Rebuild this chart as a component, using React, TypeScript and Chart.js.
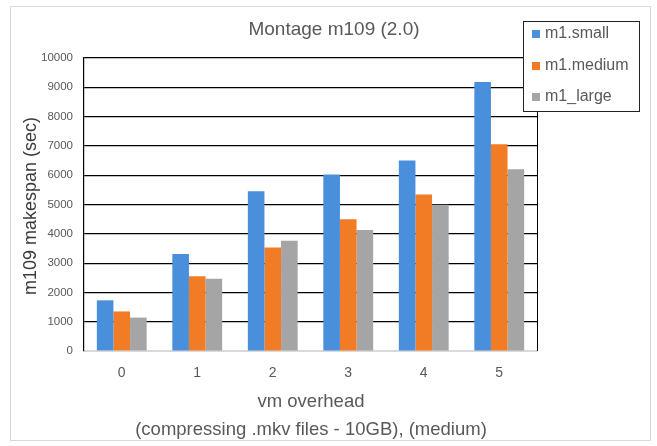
import React, { useEffect, useRef } from "react";
import { Chart, registerables } from "chart.js";

Chart.register(...registerables);

const categories = ["0", "1", "2", "3", "4", "5"];
const smallValues = [1730, 3310, 5450, 6020, 6500, 9180];
const mediumValues = [1350, 2550, 3530, 4500, 5340, 7060];
const largeValues = [1140, 2470, 3760, 4130, 4990, 6200];
const seriesNames = ["m1.small", "m1.medium", "m1_large"];
const seriesColors = ["#4A8FDB", "#F27B26", "#A5A5A5"];
const chartTitle = "Montage m109 (2.0)";
const yTitle = "m109 makespan (sec)";
const xTitleLines = ["vm overhead", "(compressing .mkv files - 10GB), (medium)"];

const FONT = "'Liberation Sans', Arial, sans-serif";
const TEXT = "#595959";

const decorPlugin = {
  id: "decor",
  afterDraw(chart: any) {
    const { ctx, chartArea } = chart;
    ctx.save();
    // outer border
    ctx.strokeStyle = "#d9d9d9";
    ctx.lineWidth = 1;
    ctx.strokeRect(10.5, 6.5, 640, 434);
    // right plot border
    ctx.strokeStyle = "#000";
    ctx.beginPath();
    ctx.moveTo(Math.round(chartArea.right) + 0.5, chartArea.top);
    ctx.lineTo(Math.round(chartArea.right) + 0.5, chartArea.bottom);
    ctx.stroke();
    // title
    ctx.fillStyle = TEXT;
    ctx.textAlign = "center";
    ctx.textBaseline = "middle";
    ctx.font = `19px ${FONT}`;
    ctx.fillText(chartTitle, 334, 30);
    // y title
    ctx.save();
    ctx.translate(31, 206);
    ctx.rotate(-Math.PI / 2);
    ctx.fillStyle = "#3a3a3a";
    ctx.font = `18px ${FONT}`;
    ctx.fillText(yTitle, 0, 0);
    ctx.restore();
    // x title
    ctx.fillStyle = TEXT;
    ctx.font = `18.5px ${FONT}`;
    ctx.fillText(xTitleLines[0], 311, 402);
    ctx.fillText(xTitleLines[1], 311, 430);
    // legend
    ctx.fillStyle = "#fff";
    ctx.fillRect(523, 21, 116, 90);
    ctx.strokeStyle = "#222";
    ctx.lineWidth = 1;
    ctx.strokeRect(523.5, 21.5, 116, 90);
    const ys = [34, 66, 97];
    chart.data.datasets.forEach((ds: any, i: number) => {
      ctx.fillStyle = ds.backgroundColor;
      ctx.fillRect(532, ys[i] - 4, 8, 8);
      ctx.fillStyle = TEXT;
      ctx.textAlign = "left";
      ctx.font = `16px ${FONT}`;
      ctx.fillText(ds.label, 545, ys[i]);
    });
    ctx.restore();
  },
};

export default function App() {
  const ref = useRef<HTMLCanvasElement | null>(null);
  useEffect(() => {
    if (!ref.current) return;
    const chart = new Chart(ref.current, {
      type: "bar",
      data: {
        labels: categories,
        datasets: [
          { label: seriesNames[0], data: smallValues, backgroundColor: seriesColors[0] },
          { label: seriesNames[1], data: mediumValues, backgroundColor: seriesColors[1] },
          { label: seriesNames[2], data: largeValues, backgroundColor: seriesColors[2] },
        ],
      },
      options: {
        responsive: false,
        animation: false,
        devicePixelRatio: 1,
        layout: { padding: { left: 10, right: 120, top: 58, bottom: 0 } },
        datasets: { bar: { categoryPercentage: 0.66, barPercentage: 1 } },
        plugins: {
          legend: { display: false },
          title: { display: false },
          tooltip: { enabled: false },
        },
        scales: {
          x: {
            grid: { display: false, drawTicks: false },
            border: { display: true, color: "#d9d9d9" },
            ticks: { color: TEXT, font: { family: FONT, size: 14 }, padding: 14 },
            afterFit: (s: any) => {
              s.height = 95;
            },
          },
          y: {
            min: 0,
            max: 10000,
            grid: {
              drawTicks: false,
              color: (c: any) => (c.tick && c.tick.value === 0 ? "#d9d9d9" : "#000"),
              lineWidth: 1.2,
            },
            border: { display: true, color: "#000", width: 1.2 },
            ticks: {
              stepSize: 1000,
              color: TEXT,
              font: { family: FONT, size: 11.5 },
              padding: 11,
              callback: (v: any) => String(v),
            },
            afterFit: (s: any) => {
              s.width = 74;
            },
          },
        },
      },
      plugins: [decorPlugin],
    });
    return () => chart.destroy();
  }, []);
  return (
    <div style={{ position: "fixed", left: 0, top: 0, width: 657, height: 446, background: "#fff" }}>
      <canvas ref={ref} width={657} height={446} style={{ width: 657, height: 446 }} />
    </div>
  );
}
